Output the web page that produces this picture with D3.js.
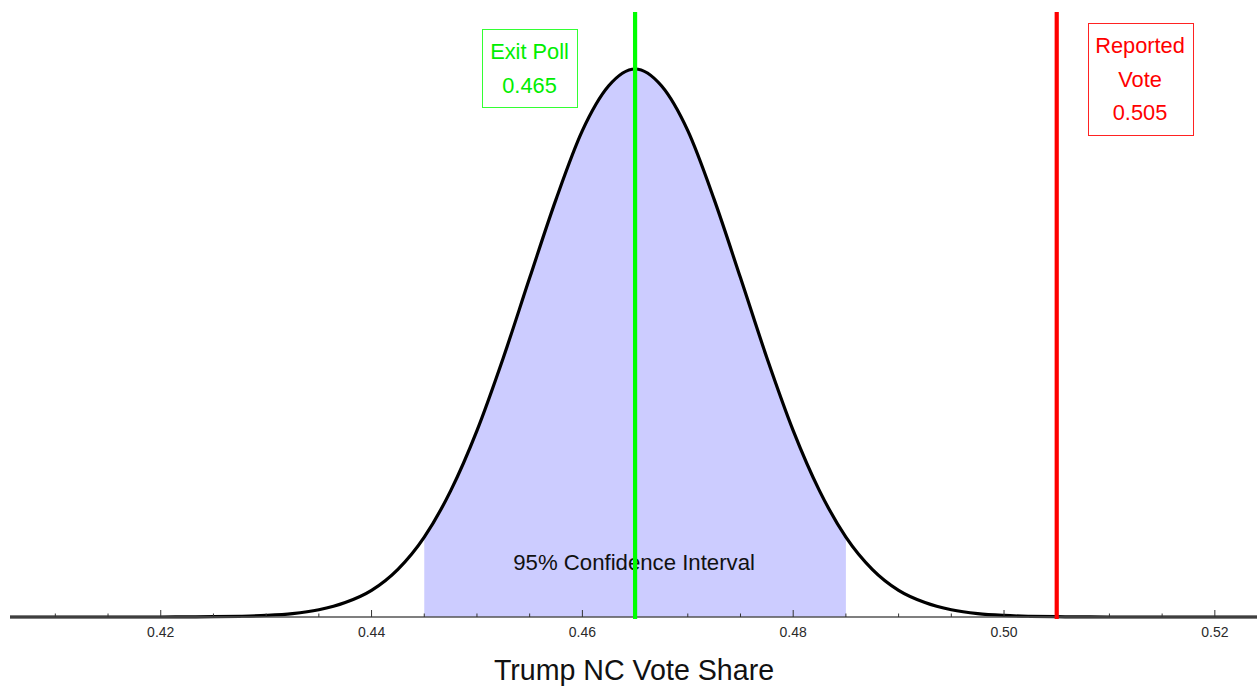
<!DOCTYPE html>
<html>
<head>
<meta charset="utf-8">
<script src="https://cdn.jsdelivr.net/npm/d3@7"></script>
<style>
  html, body { margin: 0; padding: 0; background: #fff; }
  svg { display: block; }
  text { font-family: "Liberation Sans", Arial, Helvetica, sans-serif; }
</style>
</head>
<body>
<svg id="chart" width="1257" height="687"></svg>
<script>
// ---- data ----
const shareValues = [0.405,0.4075,0.41,0.4125,0.415,0.4175,0.42,0.4225,0.425,0.4275,0.43,0.4325,0.435,0.4375,0.44,0.4425,0.445,0.4475,0.45,0.4525,0.455,0.4575,0.46,0.4625,0.465,0.4675,0.47,0.4725,0.475,0.4775,0.48,0.4825,0.485,0.4875,0.49,0.4925,0.495,0.4975,0.50,0.5025,0.505,0.5075,0.51,0.5125,0.515,0.5175,0.52,0.5225,0.525];
const densityValues = [0,0,0,0,0,0,0,0.01,0.02,0.05,0.11,0.24,0.52,1.03,1.9,3.4,5.7,9.0,13.3,18.5,24.2,29.8,34.7,37.9,39.1,37.9,34.7,29.8,24.2,18.5,13.3,9.0,5.7,3.4,1.9,1.03,0.52,0.24,0.11,0.05,0.02,0.01,0,0,0,0,0,0,0];
const ciLow = 0.445, ciHigh = 0.485;
const exitPoll = 0.465, reportedVote = 0.505;
const majorTicks = [0.42, 0.44, 0.46, 0.48, 0.50, 0.52];
const minorTicks = [0.41,0.415,0.425,0.43,0.435,0.445,0.45,0.455,0.465,0.47,0.475,0.485,0.49,0.495,0.505,0.51,0.515,0.525];
const xTitle = "Trump NC Vote Share";
const ciLabel = "95% Confidence Interval";
const exitLabel = ["Exit Poll", "0.465"];
const reportedLabel = ["Reported", "Vote", "0.505"];

const data = shareValues.map((s, i) => ({ s, d: densityValues[i] }));

const svg = d3.select("#chart");
const left = 10, right = 1257, base = 617;
const x = d3.scaleLinear().domain([0.4057, 0.5240]).range([left, right]);
const y = d3.scaleLinear().domain([0, 39.1]).range([base, 69]);

svg.append("defs").append("clipPath").attr("id", "plotclip")
  .append("rect").attr("x", left).attr("y", 0).attr("width", right - left).attr("height", 687);

const g = svg.append("g").attr("clip-path", "url(#plotclip)");

// shaded confidence interval
const ciData = data.filter(p => p.s >= ciLow - 1e-9 && p.s <= ciHigh + 1e-9);
g.append("path")
  .datum(ciData)
  .attr("fill", "#ccccff")
  .attr("d", d3.area().x(p => x(p.s)).y0(base).y1(p => y(p.d)).curve(d3.curveMonotoneX));

// axis
const ax = svg.append("g").attr("transform", `translate(0,${base})`);
ax.append("line").attr("x1", left).attr("x2", right).attr("y1", 0).attr("y2", 0)
  .attr("stroke", "#555").attr("stroke-width", 1.6);
ax.selectAll(".major").data(majorTicks).join("line")
  .attr("x1", d => x(d)).attr("x2", d => x(d)).attr("y1", 0).attr("y2", -7)
  .attr("stroke", "#333").attr("stroke-width", 1);
ax.selectAll(".minor").data(minorTicks).join("line")
  .attr("x1", d => x(d)).attr("x2", d => x(d)).attr("y1", 0).attr("y2", -3.5)
  .attr("stroke", "#333").attr("stroke-width", 1);
ax.selectAll(".lbl").data(majorTicks).join("text")
  .attr("x", d => x(d)).attr("y", 20)
  .attr("text-anchor", "middle").attr("font-size", 14).attr("fill", "#2a2a2a")
  .text(d3.format(".2f"));

// curve
g.append("path")
  .datum(data)
  .attr("fill", "none").attr("stroke", "#000").attr("stroke-width", 3.2)
  .attr("d", d3.line().x(p => x(p.s)).y(p => y(p.d)).curve(d3.curveMonotoneX));

// CI label
svg.append("text").attr("x", x((ciLow + ciHigh) / 2) - 1).attr("y", 570)
  .attr("text-anchor", "middle").attr("font-size", 22.2).attr("fill", "#111")
  .text(ciLabel);

// vertical lines
svg.append("line").attr("x1", x(exitPoll)).attr("x2", x(exitPoll)).attr("y1", 12).attr("y2", 619)
  .attr("stroke", "#00ff00").attr("stroke-width", 4.2);
svg.append("line").attr("x1", x(reportedVote)).attr("x2", x(reportedVote)).attr("y1", 12).attr("y2", 619)
  .attr("stroke", "#ff0000").attr("stroke-width", 4.2);

// annotation boxes
svg.append("rect").attr("x", 482.5).attr("y", 29.5).attr("width", 95).attr("height", 78)
  .attr("fill", "#fff").attr("stroke", "#33ff33").attr("stroke-width", 1);
svg.selectAll(".exitTxt").data(exitLabel).join("text")
  .attr("x", 529.5).attr("y", (d, i) => 59 + i * 33.5)
  .attr("text-anchor", "middle").attr("font-size", 21.8).attr("fill", "#00ee00")
  .text(d => d);

svg.append("rect").attr("x", 1088.5).attr("y", 23.5).attr("width", 105).attr("height", 112)
  .attr("fill", "#fff").attr("stroke", "#ff2222").attr("stroke-width", 1);
svg.selectAll(".repTxt").data(reportedLabel).join("text")
  .attr("x", 1140).attr("y", (d, i) => 53 + i * 33.7)
  .attr("text-anchor", "middle").attr("font-size", 21.8).attr("fill", "#ff0000")
  .text(d => d);

// x axis title
svg.append("text").attr("x", 634).attr("y", 680)
  .attr("text-anchor", "middle").attr("font-size", 28.6).attr("fill", "#111")
  .text(xTitle);
</script>
</body>
</html>
